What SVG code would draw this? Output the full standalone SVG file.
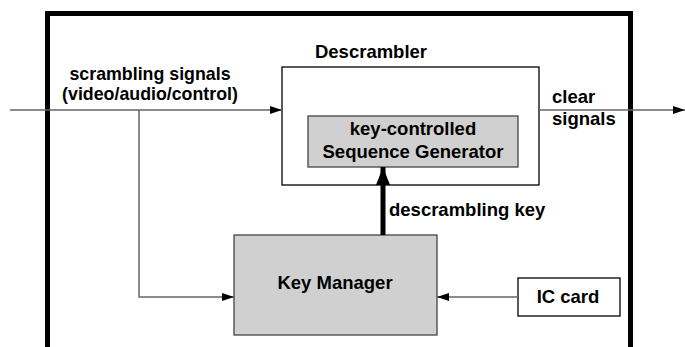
<svg xmlns="http://www.w3.org/2000/svg" width="685" height="347" viewBox="0 0 685 347">
<defs>
<style>
text{font-family:"Liberation Sans",Arial,sans-serif;font-weight:bold;font-size:18.5px;fill:#000}
text.in{font-size:17.8px}
.thin{stroke:#666;stroke-width:1.5;fill:none}
.box{fill:#fff;stroke:#000;stroke-width:1.3}
.gray{fill:#d0d0d0;stroke:#444;stroke-width:1.3}
</style>
<marker id="ah" viewBox="0 0 12 8" refX="12" refY="4" markerWidth="12" markerHeight="8" markerUnits="userSpaceOnUse" orient="auto"><path d="M0,0L12,4L0,8z" fill="#000"/></marker>
<marker id="ahb" viewBox="0 0 18 14" refX="18" refY="7" markerWidth="18" markerHeight="14" markerUnits="userSpaceOnUse" orient="auto"><path d="M0,0L18,7L0,14z" fill="#000"/></marker>
</defs>
<g id="frame"><path d="M47.5,350V13.5H630.5V350" fill="none" stroke="#000" stroke-width="5"/></g>
<g id="descrambler">
<rect class="box" x="282" y="67" width="257" height="118"/>
<text x="371" y="58" text-anchor="middle">Descrambler</text>
</g>
<g id="seqgen">
<rect class="gray" x="308" y="116" width="210" height="51"/>
<text x="413" y="135" text-anchor="middle">key-controlled</text>
<text x="413" y="158" text-anchor="middle">Sequence Generator</text>
</g>
<g id="keymanager">
<rect class="gray" x="234" y="235" width="203" height="100"/>
<text x="335" y="289" text-anchor="middle">Key Manager</text>
</g>
<g id="iccard">
<rect class="box" x="518" y="278" width="102" height="38"/>
<text x="568" y="303" text-anchor="middle">IC card</text>
</g>
<g id="connectors">
<line class="thin" x1="10" y1="110" x2="282" y2="110" marker-end="url(#ah)"/>
<path class="thin" d="M139,110V297H234" marker-end="url(#ah)"/>
<line class="thin" x1="539" y1="110" x2="685" y2="110" marker-end="url(#ah)"/>
<line class="thin" x1="518" y1="297" x2="437" y2="297" marker-end="url(#ah)"/>
<line x1="383" y1="235" x2="383" y2="167" stroke="#000" stroke-width="5" marker-end="url(#ahb)"/>
</g>
<g id="labels">
<text class="in" x="150" y="80" text-anchor="middle">scrambling signals</text>
<text class="in" x="150" y="100" text-anchor="middle">(video/audio/control)</text>
<text x="552" y="103">clear</text>
<text x="552" y="125">signals</text>
<text x="389" y="216">descrambling key</text>
</g>
</svg>
